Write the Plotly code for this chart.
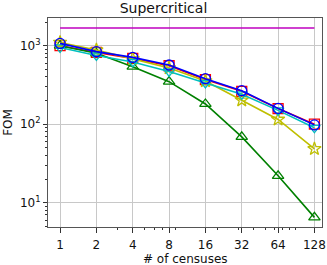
import plotly.graph_objects as go

censuses = [1, 2, 4, 8, 16, 32, 64, 128]
tick_text = ["1", "2", "4", "8", "16", "32", "64", "128"]

fom_red = [1000, 820, 690, 555, 370, 262, 158, 100]
fom_green = [1000, 800, 540, 348, 181, 69, 22, 6.5]
fom_yellow = [1100, 880, 680, 520, 355, 202, 115, 48.5]
fom_cyan = [950, 750, 620, 470, 335, 240, 150, 90]
fom_blue = [1070, 840, 710, 568, 380, 267, 159, 98]
fom_ref = [1680, 1680]
ref_x = [1, 128]

series = [
    ("red", fom_red, "square-open", "#ff0000"),
    ("green", fom_green, "triangle-up-open", "#008000"),
    ("yellow", fom_yellow, "star-open", "#bfbf00"),
    ("cyan", fom_cyan, "triangle-down-open", "#00bfbf"),
    ("blue", fom_blue, "circle-open", "#0000ff"),
]

fig = go.Figure()
fig.add_trace(go.Scatter(x=ref_x, y=fom_ref, mode="lines",
                         line=dict(color="#bf00bf", width=1.5), showlegend=False))
for name, ys, sym, col in series:
    fig.add_trace(go.Scatter(x=censuses, y=ys, mode="lines+markers", name=name,
                             line=dict(color=col, width=1.6),
                             marker=dict(symbol=sym, size=10, color=col,
                                         line=dict(color=col, width=1.3)),
                             showlegend=False))

minor_y = [v * m for m in (1, 10, 100, 1000) for v in (5, 6, 7, 8, 9)] + \
          [v * m for m in (10, 100, 1000) for v in (2, 3, 4)]

fig.update_xaxes(type="log", range=[-0.1, 2.17], automargin=False,
                 tickvals=censuses, ticktext=tick_text,
                 ticks="outside", ticklen=5, tickcolor="#333",
                 ticklabelstandoff=2,
                 showgrid=True, gridcolor="#c8c8c8", gridwidth=1.3,
                 showline=True, linecolor="#555", linewidth=1, mirror=True,
                 zeroline=False,
                 minor=dict(tickvals=[2, 3, 4, 5, 6, 7, 8, 9, 20, 30, 40, 50, 60, 70, 80, 90],
                            ticks="outside", ticklen=2, tickcolor="#333", showgrid=False),
                 tickfont=dict(size=12, color="#111"))
fig.update_yaxes(type="log", range=[0.69, 3.353], automargin=False,
                 tickvals=[10, 100, 1000],
                 ticktext=["10<sup>1</sup>", "10<sup>2</sup>", "10<sup>3</sup>"],
                 ticks="outside", ticklen=4, tickcolor="#333",
                 showgrid=True, gridcolor="#c8c8c8", gridwidth=1.3,
                 showline=True, linecolor="#555", linewidth=1, mirror=True,
                 zeroline=False,
                 minor=dict(tickvals=minor_y, ticks="outside", ticklen=2,
                            tickcolor="#333", showgrid=False),
                 title=dict(text="FOM", standoff=4, font=dict(size=12)),
                 tickfont=dict(size=12, color="#111"))

fig.add_annotation(text="# of censuses", xref="paper", yref="paper", x=0.5, y=0,
                   xanchor="center", yanchor="top", yshift=-23, showarrow=False,
                   font=dict(size=12, color="#111"))

fig.update_layout(
    width=327, height=265,
    margin=dict(l=48, r=5, t=18, b=38),
    paper_bgcolor="white", plot_bgcolor="white",
    font=dict(family="DejaVu Sans", size=12, color="#111"),
    title=dict(text="Supercritical", x=0.5, xanchor="center", y=0.968, yanchor="middle",
               font=dict(size=14)),
)

fig.write_html("out.html", config={"displayModeBar": False},
               post_script="document.body.style.margin='0';")
